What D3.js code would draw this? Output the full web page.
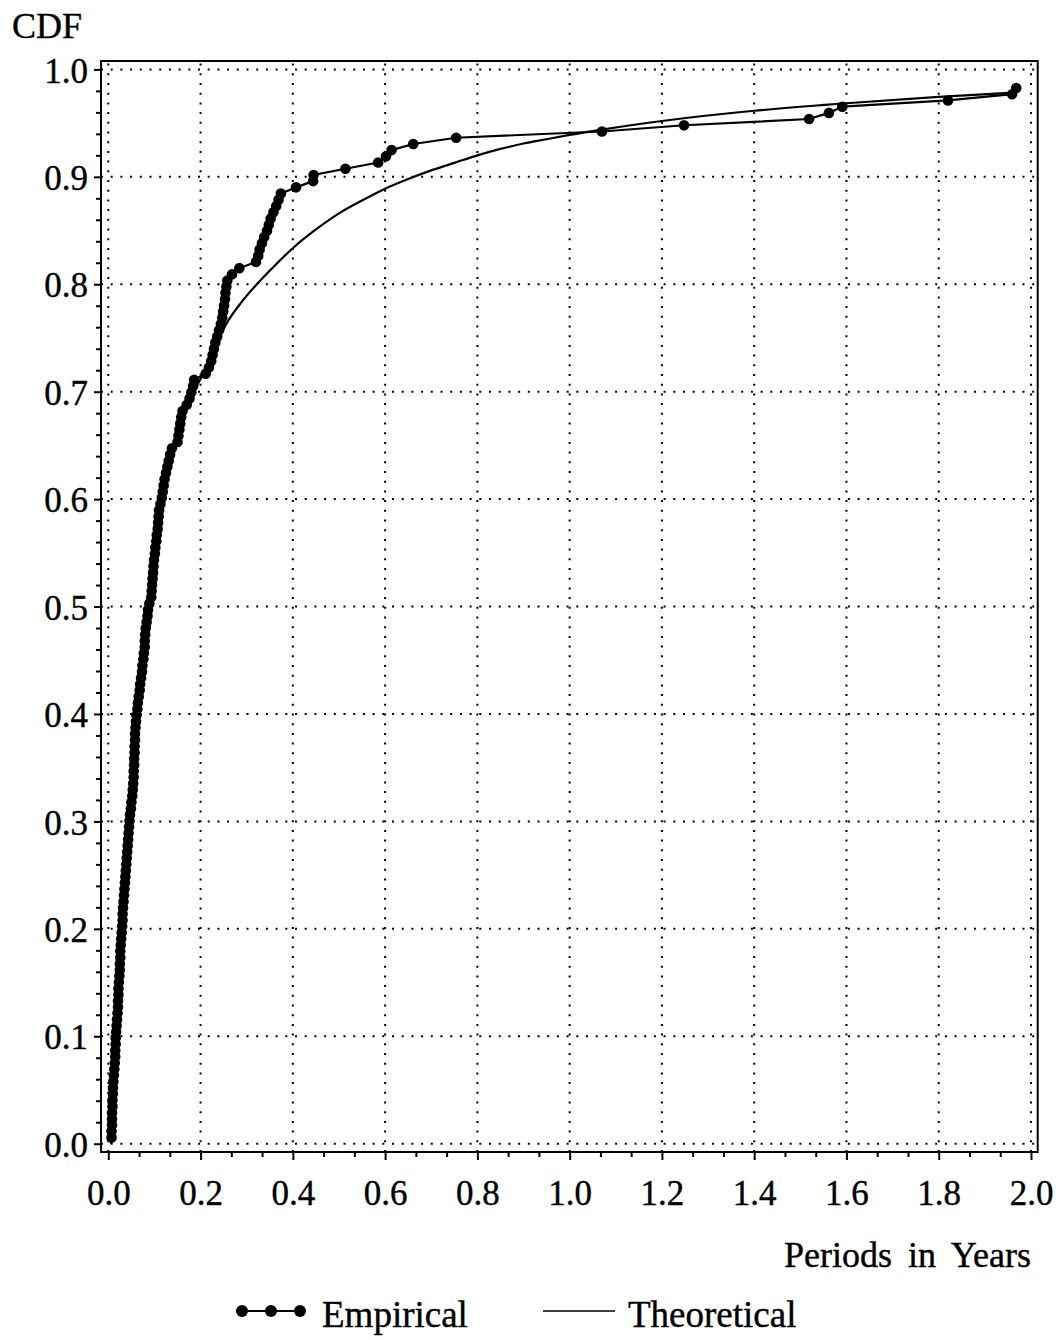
<!DOCTYPE html>
<html>
<head>
<meta charset="utf-8">
<script src="https://cdn.jsdelivr.net/npm/d3@7"></script>
<style>
  body { margin: 0; background: #fff; }
  text { font-family: "Liberation Serif", "DejaVu Serif", serif; fill: #000; stroke: #000; stroke-width: 0.4px; }
</style>
</head>
<body>
<div class="container"></div>
<script>
// empirical CDF points
const empX = [
  0.007, 0.007, 0.008, 0.008, 0.008, 0.009, 0.009, 0.010, 0.010, 0.011,
  0.012, 0.013, 0.014, 0.015, 0.015, 0.016, 0.016, 0.017, 0.018, 0.019,
  0.020, 0.021, 0.021, 0.022, 0.022, 0.023, 0.024, 0.025, 0.025, 0.026,
  0.026, 0.027, 0.028, 0.029, 0.030, 0.031, 0.031, 0.032, 0.033, 0.034,
  0.035, 0.036, 0.037, 0.038, 0.039, 0.040, 0.041, 0.042, 0.043, 0.044,
  0.045, 0.046, 0.047, 0.049, 0.050, 0.052, 0.053, 0.054, 0.055, 0.055,
  0.056, 0.056, 0.057, 0.057, 0.058, 0.058, 0.059, 0.060, 0.061, 0.063,
  0.064, 0.066, 0.068, 0.069, 0.071, 0.073, 0.074, 0.076, 0.077, 0.079,
  0.079, 0.080, 0.081, 0.083, 0.085, 0.086, 0.089, 0.093, 0.094, 0.095,
  0.096, 0.097, 0.098, 0.099, 0.101, 0.102, 0.104, 0.105, 0.107, 0.108,
  0.109, 0.110, 0.113, 0.116, 0.118, 0.120, 0.122, 0.125, 0.128, 0.131,
  0.134, 0.138, 0.150, 0.152, 0.154, 0.156, 0.158, 0.161, 0.170, 0.176,
  0.180, 0.184, 0.186, 0.211, 0.218, 0.223, 0.226, 0.229, 0.232, 0.236,
  0.240, 0.244, 0.247, 0.249, 0.251, 0.253, 0.254, 0.256, 0.258, 0.268,
  0.284, 0.320, 0.325, 0.328, 0.333, 0.338, 0.344, 0.348, 0.352, 0.358,
  0.364, 0.369, 0.374, 0.407, 0.444, 0.445, 0.514, 0.585, 0.602, 0.614,
  0.661, 0.754, 1.070, 1.248, 1.519, 1.562, 1.591, 1.820, 1.959, 1.968
];
const empY = [
  0.0058, 0.0116, 0.0173, 0.0231, 0.0289, 0.0347, 0.0405, 0.0462, 0.0520, 0.0578,
  0.0636, 0.0694, 0.0751, 0.0809, 0.0867, 0.0925, 0.0983, 0.1040, 0.1098, 0.1156,
  0.1214, 0.1272, 0.1329, 0.1387, 0.1445, 0.1503, 0.1561, 0.1618, 0.1676, 0.1734,
  0.1792, 0.1850, 0.1908, 0.1965, 0.2023, 0.2081, 0.2139, 0.2197, 0.2254, 0.2312,
  0.2370, 0.2428, 0.2486, 0.2543, 0.2601, 0.2659, 0.2717, 0.2775, 0.2832, 0.2890,
  0.2948, 0.3006, 0.3064, 0.3121, 0.3179, 0.3237, 0.3295, 0.3353, 0.3410, 0.3468,
  0.3526, 0.3584, 0.3642, 0.3699, 0.3757, 0.3815, 0.3873, 0.3931, 0.3988, 0.4046,
  0.4104, 0.4162, 0.4220, 0.4277, 0.4335, 0.4393, 0.4451, 0.4509, 0.4566, 0.4624,
  0.4682, 0.4740, 0.4798, 0.4855, 0.4913, 0.4971, 0.5029, 0.5087, 0.5145, 0.5202,
  0.5260, 0.5318, 0.5376, 0.5434, 0.5491, 0.5549, 0.5607, 0.5665, 0.5723, 0.5780,
  0.5838, 0.5896, 0.5954, 0.6012, 0.6069, 0.6127, 0.6185, 0.6243, 0.6301, 0.6358,
  0.6416, 0.6474, 0.6532, 0.6590, 0.6647, 0.6705, 0.6763, 0.6821, 0.6879, 0.6936,
  0.6994, 0.7052, 0.7110, 0.7168, 0.7225, 0.7283, 0.7341, 0.7399, 0.7457, 0.7514,
  0.7572, 0.7630, 0.7688, 0.7746, 0.7803, 0.7861, 0.7919, 0.7977, 0.8035, 0.8092,
  0.8150, 0.8208, 0.8266, 0.8324, 0.8382, 0.8439, 0.8497, 0.8555, 0.8613, 0.8671,
  0.8728, 0.8786, 0.8844, 0.8902, 0.8960, 0.9017, 0.9075, 0.9133, 0.9191, 0.9249,
  0.9306, 0.9364, 0.9422, 0.9480, 0.9538, 0.9595, 0.9653, 0.9711, 0.9769, 0.9827
];

// theoretical CDF curve
const theoX = [0.006, 0.012, 0.020, 0.030, 0.045, 0.060, 0.080, 0.100, 0.115, 0.140,
  0.160, 0.185, 0.210, 0.235, 0.257, 0.290, 0.322, 0.360, 0.401, 0.450, 0.500, 0.550,
  0.600, 0.650, 0.700, 0.750, 0.800, 0.850, 0.900, 0.950, 1.000, 1.070, 1.200, 1.400,
  1.600, 1.800, 1.962];
const theoY = [0.000, 0.060, 0.130, 0.200, 0.290, 0.370, 0.450, 0.520, 0.580, 0.645,
  0.675, 0.700, 0.720, 0.745, 0.764, 0.784, 0.800, 0.817, 0.834, 0.851, 0.866, 0.878,
  0.889, 0.898, 0.906, 0.913, 0.920, 0.926, 0.931, 0.935, 0.939, 0.944, 0.952, 0.9615,
  0.9685, 0.9745, 0.9784];

const xTicks = [0.0, 0.2, 0.4, 0.6, 0.8, 1.0, 1.2, 1.4, 1.6, 1.8, 2.0];
const yTicks = [0.0, 0.1, 0.2, 0.3, 0.4, 0.5, 0.6, 0.7, 0.8, 0.9, 1.0];

const WIDTH = 1056;
const HEIGHT = 1340;
const FRAME = { left: 101, top: 61, right: 1037.7, bottom: 1152 };

var svg = d3.select('.container').append('svg')
    .attr('width', WIDTH)
    .attr('height', HEIGHT);

var xScale = d3.scaleLinear().domain([0, 2]).range([108.3, 1031]);
var yScale = d3.scaleLinear().domain([0, 1]).range([1143.7, 69.4]);

// dotted grid
var grid = svg.append('g')
    .attr('stroke', '#000')
    .attr('stroke-width', 2)
    .attr('stroke-dasharray', '2 7.7');

grid.selectAll('line.v').data(xTicks)
    .enter().append('line')
    .attr('x1', d => xScale(d)).attr('x2', d => xScale(d))
    .attr('y1', FRAME.bottom).attr('y2', FRAME.top);

grid.selectAll('line.h').data(yTicks)
    .enter().append('line')
    .attr('x1', FRAME.left).attr('x2', FRAME.right)
    .attr('y1', d => yScale(d)).attr('y2', d => yScale(d));

// theoretical line
var theo = theoX.map((x, i) => [x, theoY[i]]);
svg.append('path')
    .datum(theo)
    .attr('fill', 'none')
    .attr('stroke', '#000')
    .attr('stroke-width', 2.2)
    .attr('d', d3.line().x(d => xScale(d[0])).y(d => yScale(d[1])).curve(d3.curveMonotoneX));

// empirical line + dots
var emp = empX.map((x, i) => [x, empY[i]]);
svg.append('path')
    .datum(emp)
    .attr('fill', 'none')
    .attr('stroke', '#000')
    .attr('stroke-width', 2.2)
    .attr('d', d3.line().x(d => xScale(d[0])).y(d => yScale(d[1])));

svg.append('g').selectAll('circle').data(emp)
    .enter().append('circle')
    .attr('cx', d => xScale(d[0]))
    .attr('cy', d => yScale(d[1]))
    .attr('r', 5.3)
    .attr('fill', '#000');

// frame
svg.append('rect')
    .attr('x', FRAME.left).attr('y', FRAME.top)
    .attr('width', FRAME.right - FRAME.left)
    .attr('height', FRAME.bottom - FRAME.top)
    .attr('fill', 'none')
    .attr('stroke', '#000')
    .attr('stroke-width', 2);

// minor tick positions between the labelled ticks
var xMinor = [];
xTicks.slice(1).forEach((t, i) => { xMinor.push(xTicks[i] + (t - xTicks[i]) / 3, xTicks[i] + 2 * (t - xTicks[i]) / 3); });
var yMinor = [];
yTicks.slice(1).forEach((t, i) => { for (var k = 1; k < 5; k++) yMinor.push(yTicks[i] + k * (t - yTicks[i]) / 5); });

var fmt = d3.format('.1f');

var xAxis = svg.append('g')
    .attr('transform', `translate(0, ${FRAME.bottom})`)
    .call(d3.axisBottom(xScale).tickValues(xTicks).tickFormat(fmt).tickSize(8).tickPadding(0));
var xAxisMinor = svg.append('g')
    .attr('transform', `translate(0, ${FRAME.bottom})`)
    .call(d3.axisBottom(xScale).tickValues(xMinor).tickFormat('').tickSize(5));

var yAxis = svg.append('g')
    .attr('transform', `translate(${FRAME.left}, 0)`)
    .call(d3.axisLeft(yScale).tickValues(yTicks).tickFormat(fmt).tickSize(7).tickPadding(6));
var yAxisMinor = svg.append('g')
    .attr('transform', `translate(${FRAME.left}, 0)`)
    .call(d3.axisLeft(yScale).tickValues(yMinor).tickFormat('').tickSize(5));

[xAxis, xAxisMinor, yAxis, yAxisMinor].forEach(a => {
    a.select('.domain').remove();
    a.selectAll('line').attr('stroke', '#000').attr('stroke-width', 2);
});

xAxis.selectAll('text')
    .attr('font-family', '"Liberation Serif", serif')
    .attr('font-size', 35)
    .attr('y', 53).attr('dy', null);

yAxis.selectAll('text')
    .attr('font-family', '"Liberation Serif", serif')
    .attr('font-size', 35)
    .attr('dy', '0.36em');

// titles
svg.append('text')
    .attr('x', 12).attr('y', 38)
    .attr('font-size', 36)
    .text('CDF');

svg.append('text')
    .attr('x', 1031).attr('y', 1267)
    .attr('text-anchor', 'end')
    .attr('font-size', 36)
    .attr('word-spacing', 7)
    .text('Periods in Years');

// legend
var legY = 1311;
var leg = svg.append('g');
leg.append('line')
    .attr('x1', 242).attr('x2', 300).attr('y1', legY).attr('y2', legY)
    .attr('stroke', '#000').attr('stroke-width', 2.2);
leg.selectAll('circle').data([242, 271, 300])
    .enter().append('circle')
    .attr('cx', d => d).attr('cy', legY).attr('r', 6).attr('fill', '#000');
leg.append('text').attr('x', 322).attr('y', 1327).attr('font-size', 37).text('Empirical');

leg.append('line')
    .attr('x1', 543).attr('x2', 615).attr('y1', legY).attr('y2', legY)
    .attr('stroke', '#000').attr('stroke-width', 1.6);
leg.append('text').attr('x', 628).attr('y', 1327).attr('font-size', 37).text('Theoretical');
</script>
</body>
</html>
